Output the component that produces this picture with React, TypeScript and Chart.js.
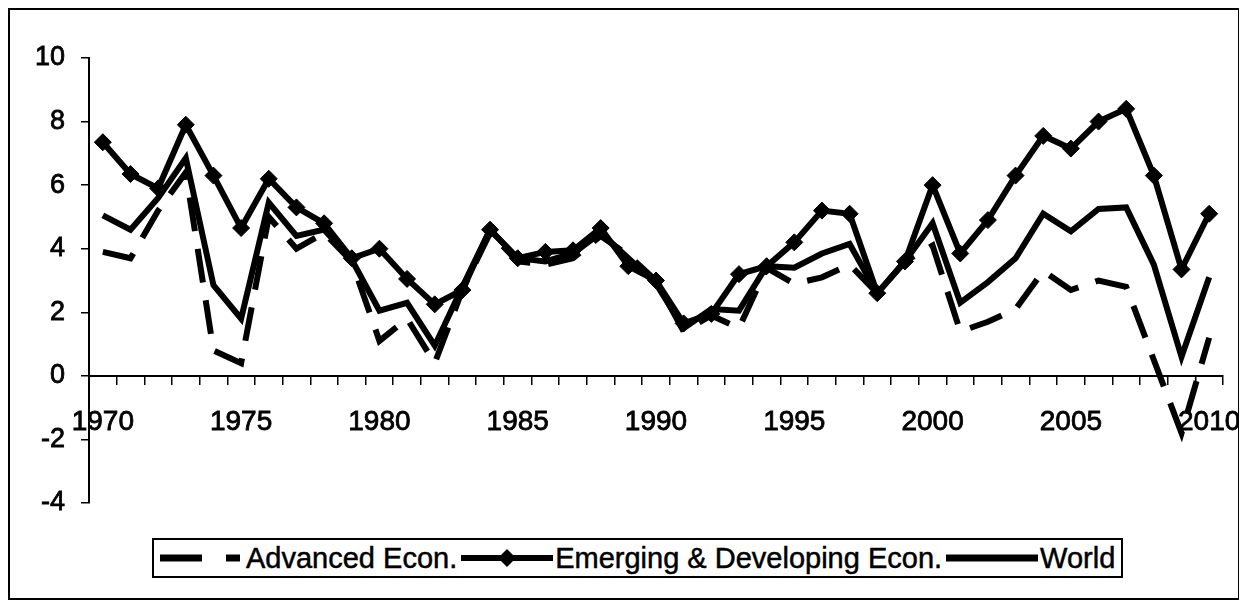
import React, { useEffect, useRef } from "react";
import { Chart, registerables } from "chart.js";

Chart.register(...registerables);

const years: string[] = [
  "1970", "1971", "1972", "1973", "1974", "1975", "1976", "1977", "1978", "1979",
  "1980", "1981", "1982", "1983", "1984", "1985", "1986", "1987", "1988", "1989",
  "1990", "1991", "1992", "1993", "1994", "1995", "1996", "1997", "1998", "1999",
  "2000", "2001", "2002", "2003", "2004", "2005", "2006", "2007", "2008", "2009",
  "2010",
];

const advanced: number[] = [
  3.9, 3.7, 5.2, 6.4, 0.8, 0.4, 5.0, 4.0, 4.5, 3.6,
  1.1, 1.8, 0.4, 2.7, 4.5, 3.6, 3.5, 3.7, 4.4, 3.8,
  3.0, 1.4, 1.9, 1.5, 3.4, 2.9, 3.1, 3.5, 2.6, 3.6,
  4.1, 1.4, 1.7, 2.1, 3.3, 2.7, 3.0, 2.8, 0.5, -1.8,
  1.2,
];

const emerging: number[] = [
  7.35, 6.35, 5.9, 7.9, 6.3, 4.65, 6.2, 5.3, 4.8, 3.7,
  4.0, 3.05, 2.25, 2.7, 4.6, 3.7, 3.9, 3.95, 4.65, 3.45,
  3.0, 1.65, 1.95, 3.2, 3.45, 4.2, 5.2, 5.1, 2.6, 3.6,
  6.0, 3.85, 4.9, 6.3, 7.55, 7.15, 8.0, 8.4, 6.3, 3.35,
  5.1,
];

const world: number[] = [
  5.05, 4.6, 5.6, 6.85, 2.85, 1.8, 5.45, 4.4, 4.6, 3.65,
  2.05, 2.3, 0.95, 2.8, 4.6, 3.7, 3.6, 3.85, 4.5, 3.7,
  2.9, 1.5, 2.1, 2.05, 3.45, 3.4, 3.85, 4.15, 2.6, 3.6,
  4.8, 2.3, 2.95, 3.7, 5.1, 4.55, 5.25, 5.3, 3.5, 0.6,
  3.1,
];

const seriesNames: string[] = ["Advanced Econ.", "Emerging & Developing Econ.", "World"];
const labelEvery = 5;

const FONT = "'Liberation Sans', Arial, Helvetica, sans-serif";

export default function App() {
  const canvasRef = useRef<HTMLCanvasElement | null>(null);

  useEffect(() => {
    if (!canvasRef.current) return;
    const chart = new Chart(canvasRef.current, {
      type: "line",
      data: {
        labels: years,
        datasets: [
          {
            label: seriesNames[0],
            data: advanced,
            borderColor: "#000",
            backgroundColor: "#000",
            borderWidth: 6,
            borderDash: [34, 18],
            borderCapStyle: "butt",
            pointRadius: 0,
            tension: 0,
          },
          {
            label: seriesNames[2],
            data: world,
            borderColor: "#000",
            backgroundColor: "#000",
            borderWidth: 6,
            pointRadius: 0,
            tension: 0,
          },
          {
            label: seriesNames[1],
            data: emerging,
            borderColor: "#000",
            backgroundColor: "#000",
            borderWidth: 6,
            pointStyle: "rectRot",
            pointRadius: 8.5,
            pointBackgroundColor: "#000",
            pointBorderColor: "#000",
            pointBorderWidth: 1,
            tension: 0,
          },
        ],
      },
      options: {
        animation: false,
        responsive: false,
        maintainAspectRatio: false,
        layout: { padding: { top: 48, right: 15, bottom: 16, left: 0 } },
        plugins: {
          legend: { display: false },
          tooltip: { enabled: false },
        },
        scales: {
          x: {
            type: "category",
            position: { y: 0 } as any,
            offset: true,
            afterFit: (s: any) => {
              s.paddingLeft = 0;
              s.paddingRight = 0;
            },
            grid: {
              display: true,
              offset: true,
              drawOnChartArea: false,
              drawTicks: true,
              tickLength: 8,
              color: "#000",
              lineWidth: 1.5,
            },
            border: { display: true, color: "#000", width: 2 },
            ticks: {
              autoSkip: false,
              maxRotation: 0,
              minRotation: 0,
              padding: 22,
              color: "#000",
              textStrokeColor: "#000",
              textStrokeWidth: 0.8,
              font: { family: FONT, size: 28 },
              callback: (_v: any, i: number) => (i % labelEvery === 0 ? years[i] : ""),
            },
          },
          y: {
            min: -4,
            max: 10,
            afterFit: (s: any) => {
              s.width = 79;
              s.paddingTop = 0;
              s.paddingBottom = 0;
            },
            grid: {
              display: true,
              drawOnChartArea: false,
              drawTicks: true,
              tickLength: 8,
              color: "#000",
              lineWidth: 1.5,
            },
            border: { display: true, color: "#000", width: 2 },
            ticks: {
              stepSize: 2,
              padding: 16,
              color: "#000",
              textStrokeColor: "#000",
              textStrokeWidth: 0.8,
              font: { family: FONT, size: 27 },
            },
          },
        },
      },
    });
    return () => chart.destroy();
  }, []);

  const textStyle: React.CSSProperties = {
    fontFamily: FONT,
    fontSize: 29,
    color: "#000",
    whiteSpace: "nowrap",
    lineHeight: "36px",
    WebkitTextStroke: "0.5px #000",
  };

  return (
    <div
      style={{
        position: "relative",
        width: 1232,
        height: 592,
        boxSizing: "border-box",
        border: "2px solid #000",
        background: "#fff",
      }}
    >
      <canvas
        ref={canvasRef}
        width={1228}
        height={509}
        style={{ position: "absolute", left: 0, top: 0, width: 1228, height: 509 }}
      />
      <div
        style={{
          position: "absolute",
          left: 142,
          top: 528,
          height: 40,
          boxSizing: "border-box",
          border: "2px solid #000",
          display: "flex",
          alignItems: "center",
          padding: "0 6px",
          background: "#fff",
        }}
      >
        <svg width={84} height={20} style={{ display: "block" }}>
          <line x1={0} y1={10} x2={42} y2={10} stroke="#000" strokeWidth={7} />
          <line x1={66} y1={10} x2={80} y2={10} stroke="#000" strokeWidth={7} />
        </svg>
        <span style={{ ...textStyle, marginLeft: 2, marginRight: 4 }}>{seriesNames[0]}</span>
        <svg width={92} height={20} style={{ display: "block" }}>
          <line x1={0} y1={10} x2={92} y2={10} stroke="#000" strokeWidth={6} />
          <polygon points="46,1 55,10 46,19 37,10" fill="#000" />
        </svg>
        <span style={{ ...textStyle, marginLeft: 2, marginRight: 4 }}>{seriesNames[1]}</span>
        <svg width={92} height={20} style={{ display: "block" }}>
          <line x1={0} y1={10} x2={92} y2={10} stroke="#000" strokeWidth={7} />
        </svg>
        <span style={{ ...textStyle, marginLeft: 2 }}>{seriesNames[2]}</span>
      </div>
    </div>
  );
}
